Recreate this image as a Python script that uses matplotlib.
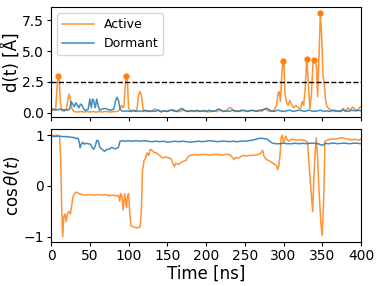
import numpy as np
import matplotlib
matplotlib.use("Agg")
import matplotlib.pyplot as plt

# d(t) for the active trajectory
t_act = [0, 3, 6, 7.5, 9, 10.5, 12, 14, 17, 20, 22, 23.5, 25, 27, 30, 34, 38, 42, 46, 50,
         54, 58, 62, 66, 70, 74, 78, 82, 86, 89, 91, 92.5, 94, 95.5, 97, 98.5, 100, 103, 106, 109,
         111, 113, 115, 117, 119, 122, 126, 130, 134, 138, 142, 146, 150, 154, 158, 162, 166, 170, 174, 178,
         182, 186, 190, 194, 198, 202, 206, 210, 214, 218, 222, 226, 230, 233, 236, 240, 244, 248, 252, 256,
         260, 264, 268, 272, 276, 280, 284, 288, 291, 293, 294.5, 296, 297.5, 299, 300.5, 302, 304, 306, 308, 310,
         313, 316, 319, 322, 324, 326, 328, 330, 332, 334, 336, 338, 339.5, 341, 342.5, 344, 346, 347.5, 349, 351,
         352.5, 354, 356, 359, 362, 366, 370, 374, 377, 380, 383, 386, 389, 392, 395, 398, 400]
d_act = [0.15, 0.2, 0.3, 1.8, 3.0, 2.9, 0.8, 0.2, 0.1, 0.3, 1.2, 1.5, 1.0, 0.3, 0.1, 0.05, 0.1, 0.05, 0.1, 0.05,
         0.1, 0.05, 0.1, 0.05, 0.1, 0.08, 0.05, 0.1, 0.1, 0.3, 0.6, 0.4, 0.5, 2.0, 3.0, 2.6, 0.4, 0.1, 0.15, 0.1,
         0.3, 1.5, 1.7, 1.2, 0.2, 0.1, 0.15, 0.1, 0.3, 0.2, 0.05, 0.15, 0.1, 0.2, 0.25, 0.1, 0.1, 0.2, 0.15, 0.1,
         0.2, 0.1, 0.15, 0.1, 0.2, 0.05, 0.1, 0.15, 0.1, 0.2, 0.1, 0.15, 0.4, 0.35, 0.1, 0.15, 0.1, 0.2, 0.15, 0.1,
         0.2, 0.15, 0.2, 0.1, 0.3, 0.15, 0.1, 0.2, 0.6, 1.6, 1.7, 0.9, 2.8, 4.2, 3.9, 1.5, 0.8, 0.6, 1.0, 0.7,
         0.4, 0.6, 0.4, 0.3, 0.9, 0.6, 2.0, 4.4, 2.5, 0.3, 1.5, 4.0, 4.3, 4.1, 3.8, 1.3, 5.0, 8.1, 6.5, 3.0,
         2.4, 1.2, 0.5, 0.3, 0.2, 0.1, 0.15, 0.1, 0.35, 0.1, 0.4, 0.2, 0.45, 0.3, 0.15, 0.4, 0.5]

# d(t) for the dormant trajectory
t_dor = [0, 3, 6, 9, 12, 15, 18, 21, 24, 26, 28, 30, 32, 34, 36, 38, 40, 42, 44, 46,
         48, 50, 52, 53.5, 55, 57, 59, 61, 63, 66, 70, 74, 78, 81, 83, 85, 87, 89, 91, 94,
         98, 102, 106, 110, 114, 118, 122, 126, 130, 134, 138, 142, 146, 150, 154, 158, 162, 166, 169, 172,
         176, 180, 184, 188, 192, 196, 200, 204, 208, 212, 216, 218, 222, 226, 230, 234, 238, 242, 246, 250,
         254, 258, 262, 266, 270, 274, 278, 280, 284, 288, 292, 296, 300, 304, 308, 312, 316, 320, 324, 328,
         332, 336, 340, 344, 348, 352, 356, 360, 364, 368, 372, 376, 380, 384, 388, 392, 396, 400]
d_dor = [0.25, 0.3, 0.2, 0.25, 0.3, 0.2, 0.25, 0.2, 0.3, 0.9, 0.7, 0.5, 0.8, 0.6, 0.4, 0.7, 0.6, 0.3, 0.2, 0.2,
         0.3, 1.1, 0.4, 1.1, 1.0, 0.4, 1.1, 0.5, 0.2, 0.3, 0.35, 0.25, 0.2, 0.3, 0.9, 1.25, 1.0, 0.3, 0.15, 0.1,
         0.15, 0.1, 0.2, 0.1, 0.15, 0.1, 0.2, 0.1, 0.15, 0.1, 0.2, 0.1, 0.15, 0.1, 0.2, 0.15, 0.1, 0.25, 0.35, 0.2,
         0.1, 0.15, 0.1, 0.2, 0.1, 0.15, 0.1, 0.2, 0.1, 0.15, 0.3, 0.25, 0.1, 0.15, 0.1, 0.2, 0.15, 0.1, 0.2, 0.15,
         0.1, 0.2, 0.15, 0.1, 0.2, 0.25, 0.35, 0.3, 0.15, 0.1, 0.2, 0.15, 0.1, 0.15, 0.2, 0.1, 0.15, 0.2, 0.15, 0.1,
         0.2, 0.15, 0.1, 0.15, 0.2, 0.1, 0.15, 0.1, 0.2, 0.15, 0.1, 0.2, 0.15, 0.1, 0.2, 0.15, 0.2, 0.15]

# peaks above the threshold
peak_t = [9, 97, 299, 330, 339.5, 347.5]
peak_d = [3.0, 3.0, 4.2, 4.4, 4.3, 8.1]
threshold = 2.5

# cos(theta) for the active trajectory
tc_act = [0, 4, 8, 11, 12.5, 13.5, 15, 16.5, 18, 19.5, 21, 23, 25, 27, 28.5, 30, 33, 36, 40, 45,
          50, 55, 60, 65, 70, 75, 80, 85, 87, 88.5, 90, 91.5, 93, 94, 95, 96.5, 97.5, 98.5, 100, 101.5,
          103, 106, 109, 112, 115, 116.5, 118, 120, 122, 124, 126, 128, 130, 133, 136, 140, 144, 148, 152, 155,
          157, 159, 161, 164, 167, 170, 174, 177, 180, 185, 190, 195, 200, 205, 210, 215, 220, 225, 230, 233,
          236, 238, 241, 244, 248, 252, 256, 260, 264, 268, 271, 273, 275, 278, 281, 284, 287, 289, 291, 292.5,
          294, 295.5, 297, 298.5, 300, 301.5, 303, 305, 307, 310, 314, 318, 322, 326, 329, 331, 333, 335.5, 337.6, 339.4,
          340.6, 342.3, 344, 345.8, 348.4, 350, 351.9, 353.5, 356, 360, 365, 370, 375, 380, 384, 388, 392, 396, 400]
c_act = [1.0, 0.99, 1.0, 0.98, 0.5, -0.3, -1.0, -0.6, -0.55, -0.7, -0.55, -0.5, -0.55, -0.35, -0.2, -0.15, -0.12, -0.15, -0.17, -0.18,
         -0.17, -0.18, -0.17, -0.18, -0.17, -0.19, -0.18, -0.2, -0.18, -0.3, -0.15, -0.2, -0.47, -0.3, -0.15, -0.35, -0.42, -0.2, -0.15, -0.5,
         -0.78, -0.8, -0.82, -0.82, -0.8, -0.5, 0.3, 0.5, 0.55, 0.65, 0.6, 0.72, 0.7, 0.66, 0.65, 0.6, 0.55, 0.57, 0.55, 0.53,
         0.45, 0.38, 0.45, 0.42, 0.45, 0.48, 0.5, 0.58, 0.6, 0.62, 0.61, 0.62, 0.62, 0.61, 0.62, 0.62, 0.61, 0.62, 0.62, 0.58,
         0.52, 0.56, 0.55, 0.57, 0.6, 0.59, 0.6, 0.6, 0.61, 0.62, 0.65, 0.7, 0.58, 0.52, 0.5, 0.47, 0.44, 0.42, 0.4, 0.32,
         0.4, 0.6, 0.95, 1.0, 0.85, 0.9, 0.98, 0.9, 0.88, 0.92, 0.91, 0.9, 0.91, 0.9, 0.88, 0.86, 0.4, -0.1, -0.5, 0.25,
         0.6, 0.95, 0.55, -0.1, -0.76, -0.97, -0.25, 0.88, 0.9, 0.92, 0.92, 0.93, 0.95, 0.93, 0.92, 0.9, 0.92, 0.9, 0.92]

# cos(theta) for the dormant trajectory
tc_dor = [0, 5, 10, 15, 20, 25, 30, 33, 35, 36.5, 37.5, 39, 41, 43, 45, 48, 51, 53, 55, 57,
          59, 61, 63, 66, 69, 72, 75, 78, 81, 84, 87, 89, 92, 96, 100, 105, 110, 115, 120, 125,
          130, 135, 140, 145, 150, 155, 160, 165, 170, 175, 180, 185, 190, 195, 200, 205, 210, 215, 220, 225,
          230, 235, 240, 245, 250, 255, 260, 265, 270, 275, 279, 283, 286, 290, 295, 300, 305, 310, 315, 320,
          325, 330, 335, 340, 345, 348, 351, 354, 358, 362, 366, 370, 375, 380, 385, 390, 395, 400]
c_dor = [0.98, 0.97, 0.98, 0.97, 0.97, 0.96, 0.95, 0.93, 0.94, 0.85, 0.75, 0.82, 0.86, 0.82, 0.84, 0.83, 0.82, 0.76, 0.72, 0.78,
         0.9, 0.88, 0.76, 0.72, 0.68, 0.72, 0.72, 0.76, 0.74, 0.73, 0.76, 0.88, 0.89, 0.88, 0.89, 0.88, 0.89, 0.88, 0.89, 0.88,
         0.87, 0.88, 0.87, 0.88, 0.86, 0.87, 0.88, 0.87, 0.88, 0.87, 0.86, 0.87, 0.88, 0.87, 0.88, 0.89, 0.88, 0.87, 0.88, 0.88,
         0.87, 0.88, 0.87, 0.88, 0.88, 0.89, 0.9, 0.92, 0.94, 0.93, 0.92, 0.87, 0.84, 0.83, 0.83, 0.84, 0.83, 0.83, 0.84, 0.83,
         0.84, 0.83, 0.84, 0.84, 0.83, 0.81, 0.8, 0.84, 0.83, 0.84, 0.84, 0.83, 0.84, 0.84, 0.83, 0.84, 0.84, 0.83]

c_orange = "tab:orange"
c_blue = "tab:blue"

fig = plt.figure(figsize=(3.81, 2.86), dpi=100)
ax1 = fig.add_axes([0.134, 0.591, 0.8135, 0.385])
ax2 = fig.add_axes([0.134, 0.154, 0.8135, 0.395], sharex=ax1)

ax1.plot(t_act, d_act, color=c_orange, lw=1.1, alpha=0.85, label="Active")
ax1.plot(t_dor, d_dor, color=c_blue, lw=1.1, alpha=0.85, label="Dormant")
ax1.plot(peak_t, peak_d, "o", color=c_orange, ms=3.5)
ax1.axhline(threshold, color="black", ls="--", lw=1.0)
ax1.set_ylim(-0.35, 8.6)
ax1.set_yticks([0, 2.5, 5.0, 7.5])
ax1.set_ylabel("d(t) [Å]", fontsize=12, labelpad=1)
ax1.tick_params(labelsize=10, labelbottom=False, length=3, pad=2)
ax1.legend(loc="upper left", fontsize=9, handlelength=2.5)

ax2.plot(tc_act, c_act, color=c_orange, lw=1.1, alpha=0.85)
ax2.plot(tc_dor, c_dor, color=c_blue, lw=1.1, alpha=0.85)
ax2.set_ylim(-1.1, 1.12)
ax2.set_yticks([-1, 0, 1])
ax2.set_xlim(0, 400)
ax2.set_xticks(np.arange(0, 401, 50))
ax2.set_ylabel(r"$\cos\theta(t)$", fontsize=12, labelpad=1)
ax2.set_xlabel("Time [ns]", fontsize=12, labelpad=1)
ax2.tick_params(labelsize=10, length=3, pad=2)

fig.savefig("out.png", dpi=100)
